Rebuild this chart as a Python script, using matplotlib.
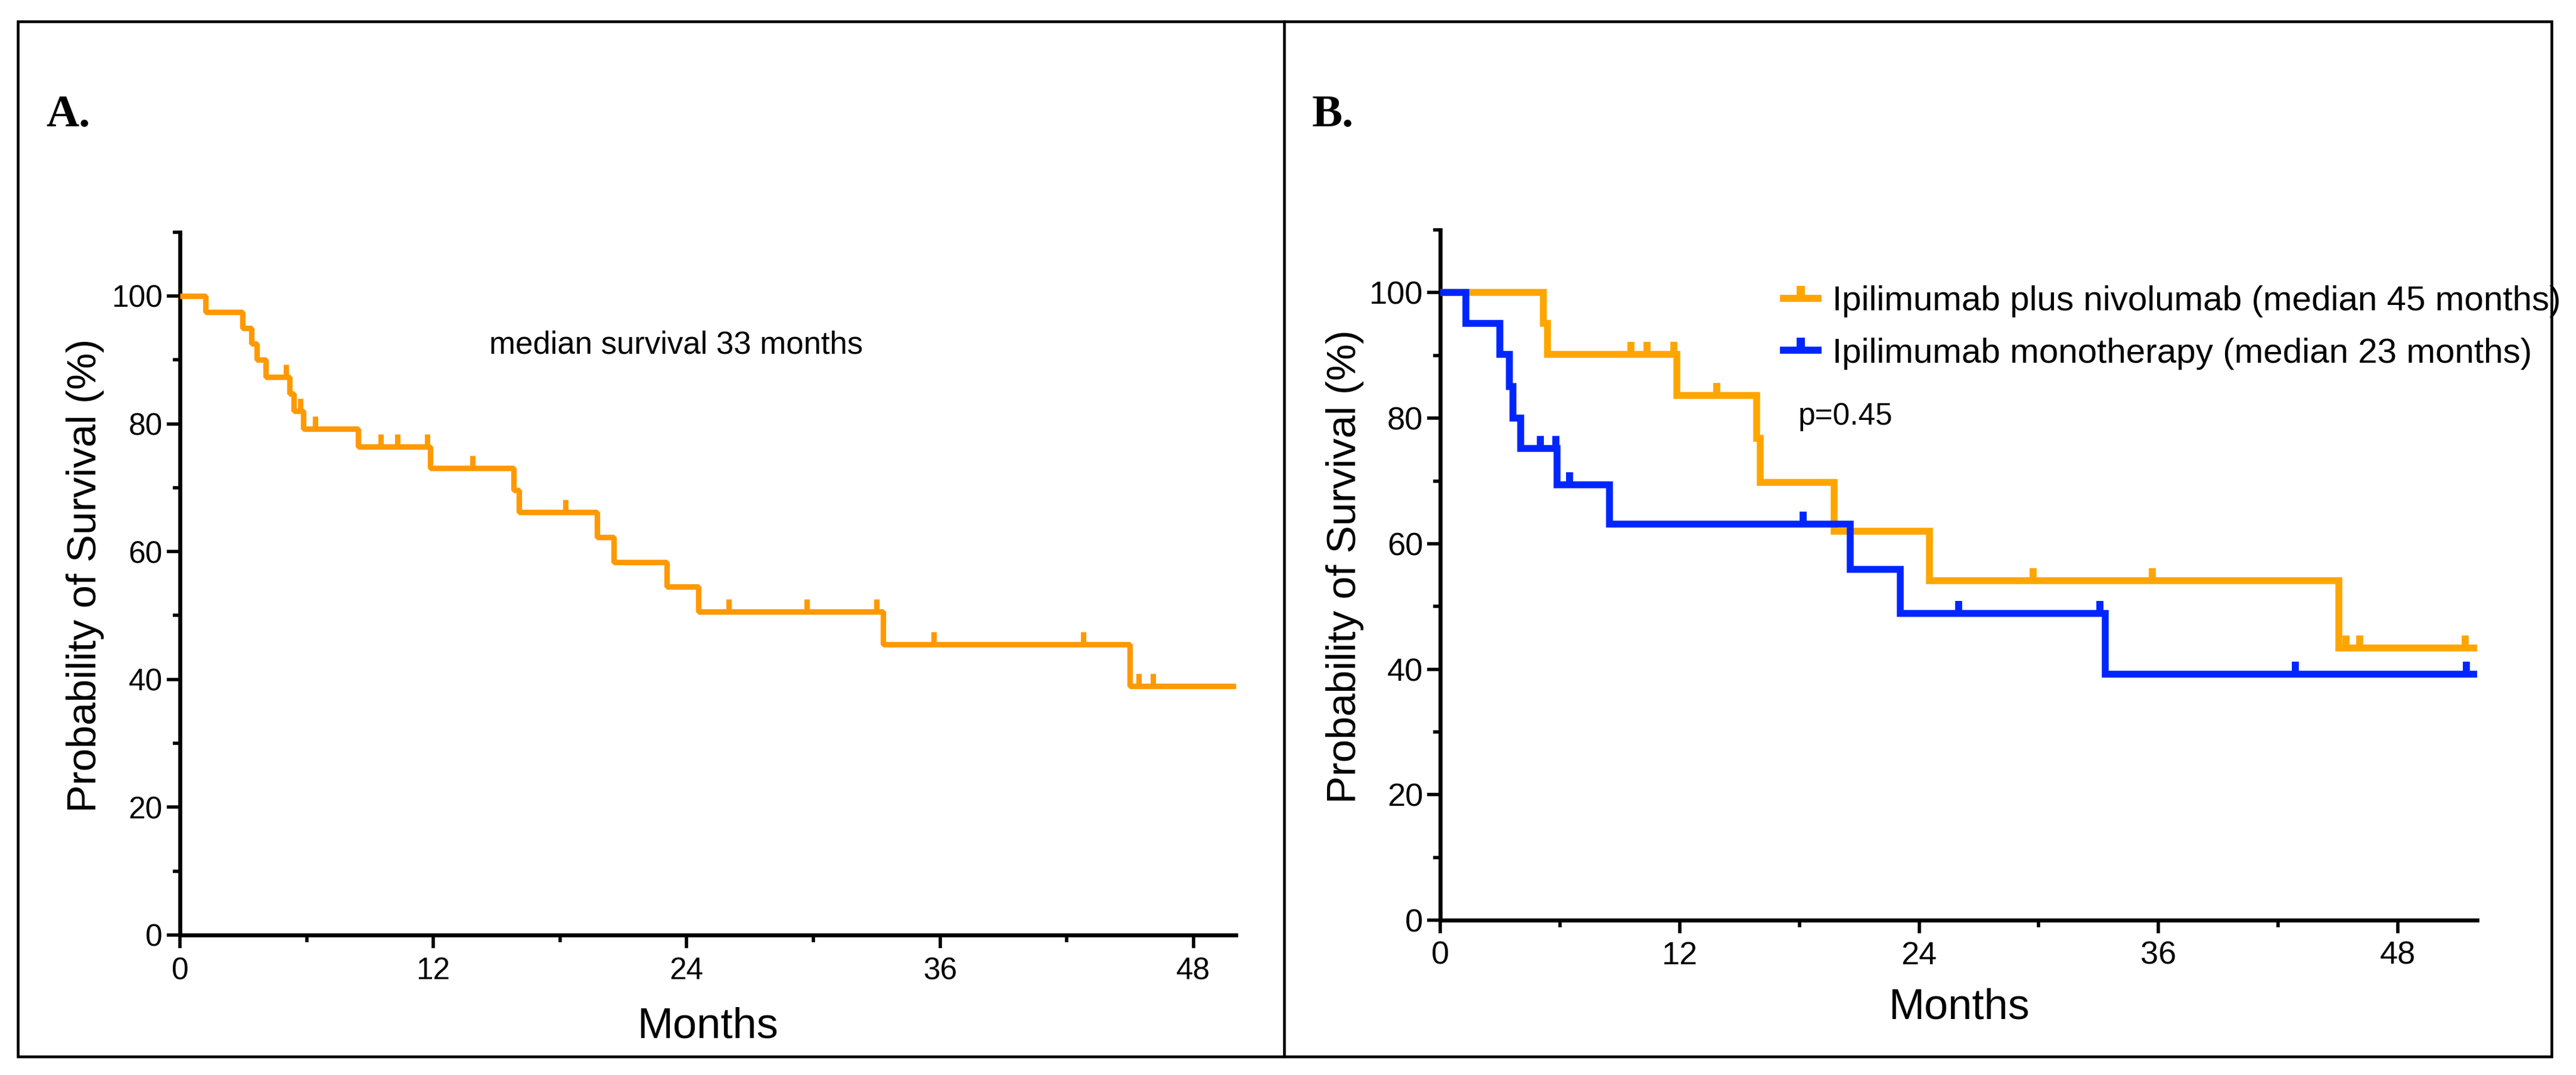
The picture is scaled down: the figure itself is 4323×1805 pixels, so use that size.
import numpy as np
import matplotlib
matplotlib.use('Agg')
import matplotlib.pyplot as plt
from matplotlib.path import Path
from matplotlib.lines import Line2D
from matplotlib.patches import Rectangle

plt.rcParams['font.family'] = ['Liberation Sans', 'DejaVu Sans']

# panel A - all patients (months, % surviving after each death)
a_times = [0, 1.2, 2.95, 3.4, 3.65, 4.05, 5.2, 5.4, 5.85, 8.45, 11.85, 15.8, 16.05,
           19.75, 20.55, 23.05, 24.55, 33.3, 45.0]
a_surv = [100, 97.5, 95.0, 92.5, 90.0, 87.3, 84.7, 82.0, 79.2, 76.4, 73.1, 69.6, 66.2,
          62.3, 58.3, 54.5, 50.6, 45.5, 39.0]
a_censor = [5.03, 5.7, 6.4, 9.5, 10.3, 11.7, 13.85, 18.25, 26.0, 29.7, 33.0, 35.7,
            42.8, 45.4, 46.1]
a_end = 50

# panel B - ipilimumab plus nivolumab
combo_times = [0, 5.17, 5.36, 11.86, 15.85, 16.03, 19.73, 24.53, 45.05]
combo_surv = [100, 95.1, 90.2, 83.6, 76.8, 69.8, 62.0, 54.1, 43.4]
combo_censor = [9.56, 10.35, 11.69, 13.84, 29.72, 35.7, 45.4, 46.1, 51.4]

# panel B - ipilimumab monotherapy
mono_times = [0, 1.26, 2.97, 3.45, 3.64, 4.03, 5.84, 8.47, 20.55, 23.05, 33.33]
mono_surv = [100, 95.1, 90.2, 85.0, 80.0, 75.2, 69.4, 63.1, 55.9, 48.9, 39.2]
mono_censor = [5.02, 5.78, 6.46, 18.2, 26.0, 33.07, 42.86, 51.46]
b_end = 52

labels_b = ['Ipilimumab plus nivolumab (median 45 months)',
            'Ipilimumab monotherapy (median 23 months)']

x_major = [0, 12, 24, 36, 48]
x_minor = [6, 18, 30, 42]
y_major = [0, 20, 40, 60, 80, 100]
y_minor = [10, 30, 50, 70, 90, 110]

orange_a = '#ff9900'
orange_b = '#ffa500'
blue_b = '#0026ff'

CENSOR = Path([[0, 0], [0, 1]])  # upward tick


def km_curve(ax, times, surv, censor, end, color, lw, mew, join, z=3):
    xs = list(times) + [end]
    ys = list(surv) + [surv[-1]]
    ax.step(xs, ys, where='post', color=color, lw=lw, solid_joinstyle=join,
            solid_capstyle='butt', clip_on=False, zorder=z)
    idx = np.searchsorted(times, censor, side='right') - 1
    cy = np.array(surv)[idx]
    ax.plot(censor, cy, ls='none', marker=CENSOR, ms=30, mew=mew, color=color,
            clip_on=False, zorder=z)


def style_axes(ax, xmax, tick_size, xpad):
    ax.set_xlim(0, xmax)
    ax.set_ylim(0, 110)
    ax.set_xticks(x_major)
    ax.set_xticks(x_minor, minor=True)
    ax.set_yticks(y_major)
    ax.set_yticks(y_minor, minor=True)
    for s in ['top', 'right']:
        ax.spines[s].set_visible(False)
    for s in ['left', 'bottom']:
        ax.spines[s].set_linewidth(4.8)
    ax.tick_params(which='major', length=16, width=4, direction='out', labelsize=tick_size)
    ax.tick_params(which='minor', length=8.5, width=4, direction='out')
    ax.tick_params(axis='x', which='both', pad=xpad)
    ax.tick_params(axis='y', which='both', pad=5)
    ax.set_xlabel('Months', fontsize=52)
    ax.set_ylabel('Probability of Survival (%)', fontsize=50)


fig = plt.figure(figsize=(43.23, 18.05), dpi=100)

# ---- panel A
axA = fig.add_axes([0.06986, 0.1302, 0.4098, 0.6539])
style_axes(axA, a_end, 37, 10)
km_curve(axA, a_times, a_surv, a_censor, a_end, orange_a, 6.7, 6.5, 'bevel')
axA.text(14.65, 91.05, 'median survival 33 months', fontsize=38, va='baseline')
axA.yaxis.set_label_coords(-0.0717, 0.511)
axA.xaxis.set_label_coords(0.5, -0.1017)

# ---- panel B
axB = fig.add_axes([0.5592, 0.1440, 0.4025, 0.6421])
style_axes(axB, b_end, 39, 9)
km_curve(axB, combo_times, combo_surv, combo_censor, b_end, orange_b, 8.3, 8.5, 'miter', 3)
km_curve(axB, mono_times, mono_surv, mono_censor, b_end, blue_b, 8.3, 8.5, 'miter', 4)
axB.text(17.95, 79.0, 'p=0.45', fontsize=37, va='baseline')
axB.yaxis.set_label_coords(-0.0739, 0.5126)
axB.xaxis.set_label_coords(0.5, -0.0975)

handles = [Line2D([], [], color=orange_b, lw=8.5, marker=CENSOR, ms=30, mew=10),
           Line2D([], [], color=blue_b, lw=8.5, marker=CENSOR, ms=30, mew=10)]
axB.legend(handles, labels_b, loc='upper left', bbox_to_anchor=(2992.7 / 4323, 0.7346),
           bbox_transform=fig.transFigure, frameon=False, fontsize=42,
           handlelength=1.0, handletextpad=0.41, borderpad=0, borderaxespad=0,
           labelspacing=0.58)

# panel labels
fig.text(77 / 4323, (1805 - 212) / 1805, 'A.', family='Liberation Serif',
         weight='bold', fontsize=55, va='baseline')
fig.text(2202 / 4323, (1805 - 212) / 1805, 'B.', family='Liberation Serif',
         weight='bold', fontsize=55, va='baseline')

# outer frame and divider
fig.add_artist(Rectangle((30.5 / 4323, (1805 - 1773.5) / 1805), 4251 / 4323, 1738 / 1805,
                         transform=fig.transFigure, fill=False, lw=3.3, ec='black', zorder=10))
fig.add_artist(Line2D([2155 / 4323, 2155 / 4323], [(1805 - 1773.5) / 1805, (1805 - 35.5) / 1805],
                      transform=fig.transFigure, lw=3.3, color='black', zorder=10))

fig.savefig('out.png', dpi=100)
